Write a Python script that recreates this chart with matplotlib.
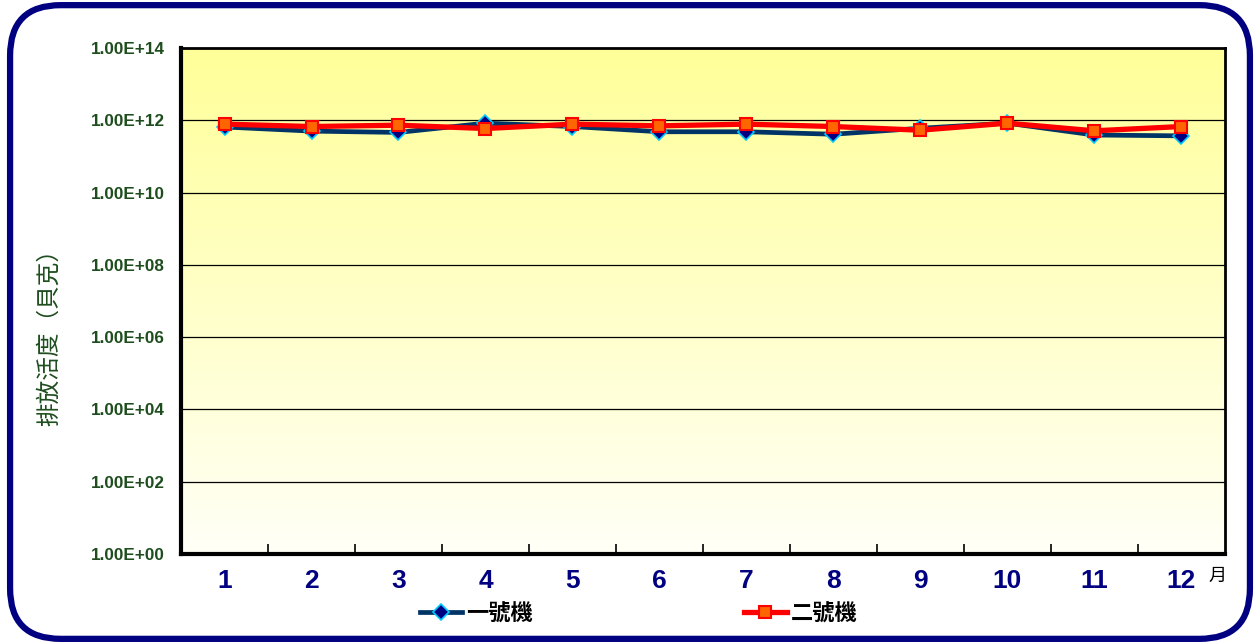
import numpy as np
import matplotlib
matplotlib.use("Agg")
import matplotlib.pyplot as plt
import matplotlib.ticker as mticker
from matplotlib.patches import FancyBboxPatch
from matplotlib.lines import Line2D

plt.rcParams["font.family"] = ["Liberation Sans", "Noto Sans CJK TC", "DejaVu Sans"]

# ── data ──────────────────────────────────────────────────────
months = [1, 2, 3, 4, 5, 6, 7, 8, 9, 10, 11, 12]
month_labels = ["1", "2", "3", "4", "5", "6", "7", "8", "9", "10", "11", "12"]
unit1 = [6.5e11, 5.0e11, 4.6e11, 8.3e11, 6.7e11, 4.8e11,
         4.8e11, 4.1e11, 6.0e11, 8.3e11, 3.9e11, 3.7e11]
unit2 = [7.8e11, 6.7e11, 7.3e11, 5.9e11, 7.8e11, 7.0e11,
         7.8e11, 6.7e11, 5.3e11, 8.3e11, 5.1e11, 6.7e11]
series_names = ["一號機", "二號機"]

GREEN = "#1E4D1E"
NAVY = "#000080"

fig = plt.figure(figsize=(12.6, 6.44), dpi=100)
fig.patch.set_facecolor("white")

# rounded outer frame
frame = FancyBboxPatch((0.008, 0.008), 0.984, 0.984,
                       boxstyle="round,pad=0,rounding_size=0.04",
                       transform=fig.transFigure, facecolor="none",
                       edgecolor=NAVY, linewidth=4.5, zorder=10,
                       mutation_aspect=1260 / 644)
fig.patches.append(frame)

ax = fig.add_axes([0.1437, 0.14, 0.8283, 0.7855])
ax.set_facecolor("none")

# yellow gradient background
grad = np.linspace(1, 0, 256).reshape(-1, 1)
top = np.array([1.0, 1.0, 0.60])
bot = np.array([1.0, 1.0, 0.97])
img = bot + (top - bot) * grad[..., None]
ax.imshow(img, extent=[0, 1, 0, 1], transform=ax.transAxes,
          aspect="auto", zorder=0)

ax.set_yscale("log")
ax.set_ylim(1, 1e14)
ax.set_xlim(0.5, 12.5)

ax.yaxis.set_major_locator(mticker.FixedLocator([10.0 ** k for k in range(0, 15, 2)]))
ax.yaxis.set_minor_locator(mticker.NullLocator())
ax.yaxis.set_major_formatter(mticker.FuncFormatter(
    lambda v, p: f"1.00E+{int(round(np.log10(v))):02d}"))
ax.grid(axis="y", color="black", linewidth=0.9, zorder=1)

ax.set_xticks(months)
ax.set_xticklabels(month_labels)
ax.set_xticks(np.arange(1.5, 12, 1), minor=True)
ax.tick_params(axis="x", which="major", length=0, pad=11,
               labelsize=19, labelcolor=NAVY)
ax.tick_params(axis="x", which="minor", length=7, width=1.2, direction="in")
ax.tick_params(axis="y", length=0, labelsize=12.3, labelcolor=GREEN, pad=12)
for lab in ax.get_xticklabels():
    lab.set_fontweight("bold")
for lab in ax.get_yticklabels():
    lab.set_fontweight("bold")

for side in ["left", "bottom"]:
    ax.spines[side].set_linewidth(3)
for side in ["top", "right"]:
    ax.spines[side].set_linewidth(2)

ax.plot(months, unit1, color="#003366", linewidth=3.4, marker="D",
        markersize=8, markerfacecolor=NAVY, markeredgecolor="#00CCFF",
        markeredgewidth=1.2, zorder=3)
ax.plot(months, unit2, color="#FF0000", linewidth=3.8, marker="s",
        markersize=9, markerfacecolor="#FF6600", markeredgecolor="#FF0000",
        markeredgewidth=1.5, zorder=4)

ax.set_ylabel("排放活度（貝克）", fontsize=17, color=GREEN,
              family=["Noto Sans CJK TC"])
ax.yaxis.set_label_coords(-0.115, 0.44)

fig.text(0.959, 0.105, "月", fontsize=13, color="black",
         family=["Noto Sans CJK TC"], ha="left", va="center")

handles = [
    Line2D([], [], color="#003366", linewidth=3.4, marker="D", markersize=8,
           markerfacecolor=NAVY, markeredgecolor="#00CCFF", markeredgewidth=1.2),
    Line2D([], [], color="#FF0000", linewidth=3.8, marker="s", markersize=9,
           markerfacecolor="#FF6600", markeredgecolor="#FF0000", markeredgewidth=1.5),
]
leg = fig.legend(handles, series_names, loc="center", bbox_to_anchor=(0.507, 0.047),
                 ncol=2, frameon=False, columnspacing=9.5, handlelength=1.9,
                 handletextpad=0.2, prop={"family": ["Noto Sans CJK TC"],
                                          "size": 16, "weight": "bold"})

fig.savefig("out.png", dpi=100, facecolor="white")
